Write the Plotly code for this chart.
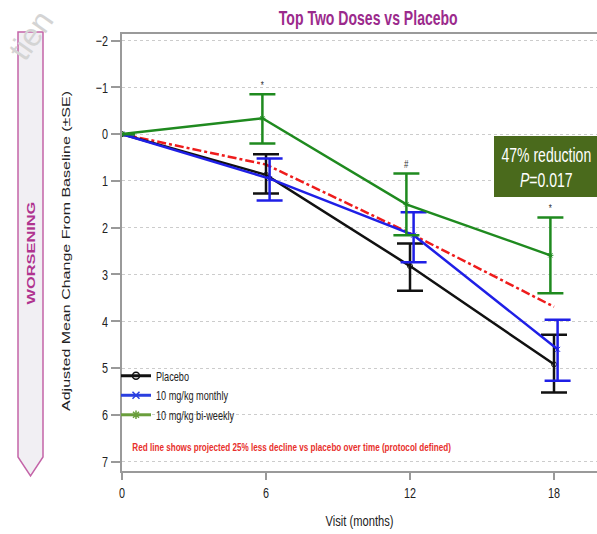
import plotly.graph_objects as go

# ---------------- data ----------------
visits = [0, 6, 12, 18]

placebo_mean = [0.0, 0.87, 2.82, 4.92]
placebo_low = [0.0, 0.43, 2.34, 4.29]
placebo_high = [0.0, 1.27, 3.35, 5.52]

monthly_mean = [0.0, 0.95, 2.16, 4.60]
monthly_low = [0.0, 0.52, 1.67, 3.97]
monthly_high = [0.0, 1.42, 2.74, 5.27]

biweekly_mean = [0.0, -0.34, 1.50, 2.59]
biweekly_low = [0.0, -0.85, 0.84, 1.78]
biweekly_high = [0.0, 0.20, 2.16, 3.40]

projected = [0.0, 0.65, 2.12, 3.69]

sig_marks = ["", "*", "#", "*"]

y_ticks = [-2, -1, 0, 1, 2, 3, 4, 5, 6, 7]
x_ticks = [0, 6, 12, 18]

# ---------------- layout helpers ----------------
W, H = 597, 534
L, R, T, B = 122, 0, 34, 63
PW, PH = W - L - R, H - T - B


def px_x(p):
    return (p - L) / PW


def px_y(p):
    return (H - B - p) / PH


FONT = "Liberation Sans, Arial, sans-serif"
TXT = "#222222"

BLACK = "#111111"
BLUE = "#1f1fe6"
GREEN = "#1f8a1f"
RED = "#ee1c1c"


def dodge(offset):
    return [v + offset if v > 0 else v for v in visits]


def err(mean, low, high):
    plus = [h - m for m, h in zip(mean, high)]
    minus = [m - l for m, l in zip(mean, low)]
    return plus, minus


fig = go.Figure()

# projected red line
fig.add_trace(go.Scatter(
    x=visits, y=projected, mode="lines",
    line=dict(color=RED, width=2.5, dash="dashdot"),
    showlegend=False, hoverinfo="skip"))

series = [
    ("Placebo", placebo_mean, placebo_low, placebo_high, BLACK, 0.0, "circle-open", "#111111"),
    ("10 mg/kg monthly", monthly_mean, monthly_low, monthly_high, BLUE, 0.15, "x-thin-open", "#2a3fe0"),
    ("10 mg/kg bi-weekly", biweekly_mean, biweekly_low, biweekly_high, GREEN, -0.15, "asterisk-open", "#6a9e3c"),
]

for name, mean, low, high, color, off, sym, legcol in series:
    plus, minus = err(mean, low, high)
    fig.add_trace(go.Scatter(
        x=dodge(off), y=mean, mode="lines+markers",
        line=dict(color=color, width=2.5),
        marker=dict(symbol=sym, size=5, color=color, line=dict(width=1, color=color)),
        error_y=dict(type="data", symmetric=False, array=plus, arrayminus=minus,
                     color=color, thickness=2.5, width=13),
        showlegend=False, name=name))

# legend entries
for name, mean, low, high, color, off, sym, legcol in series:
    fig.add_trace(go.Scatter(
        x=[None], y=[None], mode="lines+markers", name=name,
        line=dict(color=legcol, width=3),
        marker=dict(symbol=sym, size=7, color=legcol, line=dict(width=1.5, color=legcol))))

# significance marks above bi-weekly bars
bx = dodge(-0.15)
for xv, lo, s in zip(bx, biweekly_low, sig_marks):
    if s:
        fig.add_annotation(x=xv, y=lo, text=s, showarrow=False, xanchor="center", yanchor="bottom",
                           yshift=1, font=dict(family=FONT, size=11, color="#333333"))

fig.update_layout(
    width=W, height=H,
    margin=dict(l=L, r=R, t=T, b=B, autoexpand=False),
    paper_bgcolor="white", plot_bgcolor="white",
    showlegend=True,
    legend=dict(x=px_x(116), y=px_y(361), xanchor="left", yanchor="top",
                bgcolor="rgba(0,0,0,0)", font=dict(family=FONT, size=12.7, color=TXT),
                itemwidth=30, tracegroupgap=0),
)

fig.update_xaxes(
    range=[0, PW / 24.0], tickvals=x_ticks, ticks="outside", ticklen=7,
    tickcolor="#999999", tickwidth=1.5,
    showline=True, linecolor="#9a9a9a", linewidth=2, mirror=True,
    showgrid=False, zeroline=False,
    tickfont=dict(family=FONT, size=15, color=TXT),
    title=dict(text="Visit (months)", font=dict(family=FONT, size=15.5, color=TXT), standoff=15),
)

fig.update_yaxes(
    range=[7.2, -2.14], tickvals=y_ticks, ticks="outside", ticklen=9,
    tickcolor="#999999", tickwidth=1.5,
    showline=True, linecolor="#9a9a9a", linewidth=2, mirror=False,
    showgrid=True, gridcolor="#cccccc", gridwidth=1, griddash="dot",
    zeroline=False,
    tickfont=dict(family=FONT, size=15, color=TXT),
)

# y-axis title
fig.add_annotation(x=px_x(67), y=px_y(251), xref="paper", yref="paper",
                   xanchor="center", yanchor="middle",
                   text="Adjusted Mean Change From Baseline (±SE)", textangle=-90,
                   showarrow=False, font=dict(family=FONT, size=16, color=TXT))

# title
fig.add_annotation(x=px_x(368), y=px_y(18), xref="paper", yref="paper",
                   xanchor="center", yanchor="middle",
                   text="<b>Top Two Doses vs Placebo</b>", showarrow=False,
                   font=dict(family=FONT, size=19.5, color="#9b2a8c"))

# WORSENING arrow
x0, x1, xm = px_x(18), px_x(43), px_x(30.5)
y0, y1, y2 = px_y(32), px_y(457), px_y(476)
fig.add_shape(type="path", xref="paper", yref="paper",
              path=f"M {x0},{y0} L {x1},{y0} L {x1},{y1} L {xm},{y2} L {x0},{y1} Z",
              fillcolor="#f1eff3", line=dict(color="#c464a8", width=1.5))
fig.add_annotation(x=xm, y=px_y(253), xref="paper", yref="paper", text="<b>WORSENING</b>",
                   xanchor="center", yanchor="middle",
                   textangle=-90, showarrow=False,
                   font=dict(family=FONT, size=16.4, color="#b0338f"))

# result box
fig.add_shape(type="rect", xref="paper", yref="paper",
              x0=px_x(494), x1=px_x(600), y0=px_y(197), y1=px_y(136),
              fillcolor="#4a6a1c", line=dict(width=0))
fig.add_annotation(x=px_x(546), y=px_y(167), xref="paper", yref="paper",
                   xanchor="center", yanchor="middle",
                   text="47% reduction<br><i>P</i>=0.017", showarrow=False,
                   font=dict(family=FONT, size=19.5, color="white"))

# red note
fig.add_annotation(x=px_x(291), y=px_y(447), xref="paper", yref="paper",
                   xanchor="center", yanchor="middle",
                   text="<b>Red line shows projected 25% less decline vs placebo over time (protocol defined)</b>",
                   showarrow=False, font=dict(family=FONT, size=11.3, color="#e8302c"))

# watermark fragment (visible part only)
fig.add_annotation(x=px_x(31), y=px_y(35), xref="paper", yref="paper", text="tien",
                   xanchor="center", yanchor="middle",
                   textangle=-55, showarrow=False,
                   font=dict(family=FONT, size=32, color="#d4d4d4"))

# The source slide is horizontally compressed; squash text glyphs horizontally to match.
squash_js = """
(function(){
  var gd = document.getElementById('{plot_id}');
  var S = 0.72;
  function squash(){
    gd.querySelectorAll('svg text').forEach(function(t){
      if (t.getAttribute('data-sq')) return;
      var m = t.getCTM(); if (!m) return;
      var bb; try { bb = t.getBBox(); } catch(e) { return; }
      if (!bb || bb.width === 0) return;
      var tr = t.getAttribute('transform') || '';
      var rot = Math.abs(m.b) > 1e-3 || Math.abs(m.c) > 1e-3;
      if (!rot) {
        var a = t.getAttribute('text-anchor') || 'start';
        var cx = a === 'middle' ? bb.x + bb.width / 2 : (a === 'end' ? bb.x + bb.width : bb.x);
        t.setAttribute('transform', tr + ' translate(' + cx + ',0) scale(' + S + ',1) translate(' + (-cx) + ',0)');
      } else if (Math.abs(Math.abs(m.b) - 1) < 1e-3) {
        var cy = bb.y + bb.height / 2;
        t.setAttribute('transform', tr + ' translate(0,' + cy + ') scale(1,' + S + ') translate(0,' + (-cy) + ')');
      }
      t.setAttribute('data-sq', '1');
    });
  }
  squash();
  if (gd.on) gd.on('plotly_afterplot', function(){ setTimeout(squash, 0); });
})();
"""

fig.write_html("out.html", post_script=squash_js)
